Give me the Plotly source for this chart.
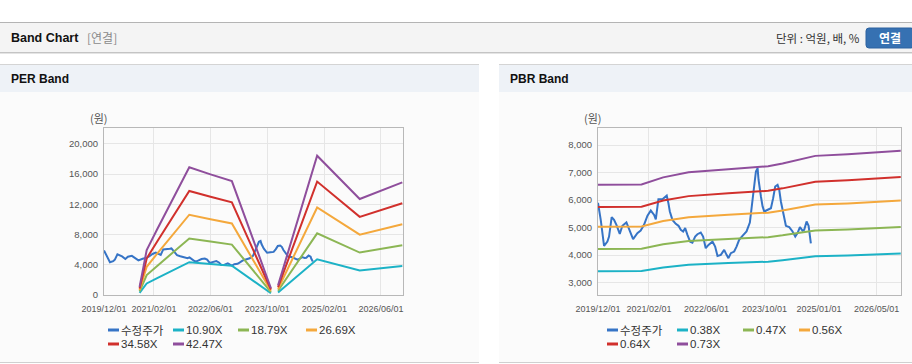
import plotly.graph_objects as go

W, H = 912, 364

# ---------------- data ----------------
price_name = "수정주가"
price_dates = [
    "2019-12-01", "2019-12-24", "2020-01-21", "2020-02-18", "2020-03-03", "2020-03-25",
    "2020-04-14", "2020-05-04", "2020-06-01", "2020-06-23", "2020-07-27", "2020-08-18",
    "2020-09-21", "2020-10-27", "2020-11-24", "2020-12-22", "2021-01-20", "2021-02-17",
    "2021-03-17", "2021-03-31", "2021-04-22", "2021-05-26", "2021-06-17", "2021-07-01",
    "2021-07-15", "2021-07-27", "2021-08-18", "2021-09-15", "2021-10-08", "2021-10-27",
    "2021-11-16", "2021-12-03", "2021-12-22", "2022-01-14", "2022-02-02", "2022-02-25",
    "2022-03-16", "2022-04-13", "2022-05-03", "2022-05-25", "2022-06-17", "2022-07-21",
    "2022-08-12", "2022-09-01", "2022-09-29", "2022-10-27", "2022-11-16", "2022-12-02",
    "2022-12-22", "2023-01-19", "2023-02-08", "2023-03-02", "2023-03-30", "2023-05-03",
    "2023-05-31", "2023-06-17", "2023-07-06", "2023-07-21", "2023-08-04", "2023-08-12",
    "2023-09-01", "2023-09-15", "2023-09-29", "2023-10-27", "2023-11-24", "2023-12-13",
    "2023-12-30", "2024-01-19", "2024-02-02", "2024-02-16", "2024-03-07", "2024-03-29",
    "2024-04-26", "2024-05-24", "2024-06-16", "2024-07-05", "2024-07-25", "2024-08-16",
    "2024-08-30", "2024-09-19", "2024-10-06", "2024-10-12", "2024-10-25",
]
price_vals = [
    5900, 5280, 4335, 4490, 4675, 5380,
    5280, 5100, 4770, 5065, 5185, 4920,
    4580, 4800, 4890, 5100, 5430, 5620,
    5460, 5300, 6030, 6030, 6110, 6160,
    5890, 5585, 5280, 5135, 5065, 4920,
    4860, 4980, 4735, 4490, 4455, 4675,
    4760, 4820, 4675, 4250, 4370, 4490,
    4310, 3970, 4010, 4190, 4010, 3890,
    4070, 4130, 4310, 4555, 4700, 4860,
    5185, 5770, 6495, 7040, 7160, 6740,
    6130, 5770, 5585, 5650, 5705, 6070,
    6495, 6555, 6375, 5950, 5525, 5065,
    5015, 4860, 4675, 4800, 5015, 4890,
    4920, 5220, 5065, 4800, 4430,
]

per_dates = ["2020-10-01", "2020-12-01", "2021-03-01", "2021-06-01", "2021-09-01",
             "2021-12-01", "2022-06-01", "2022-12-01", "2023-11-01", "2023-12-01",
             "2024-01-01", "2024-12-01", "2025-12-01", "2026-12-01"]
per_names = ["10.90X", "18.79X", "26.69X", "34.58X", "42.47X"]
per_1090 = [273, 1526, 2235, 2943, 3652, 4338, 4098, 3870, 229, None, 327, 4731, 3259, 3826]
per_1879 = [470, 2631, 3852, 5073, 6295, 7478, 7065, 6670, 395, None, 564, 8155, 5618, 6595]
per_2669 = [667, 3737, 5471, 7206, 8941, 10623, 10035, 9475, 560, None, 801, 11583, 7980, 9368]
per_3458 = [865, 4841, 7089, 9337, 11584, 13763, 13002, 12276, 726, None, 1037, 15008, 10339, 12138]
per_4247 = [1062, 5946, 8706, 11467, 14227, 16903, 15969, 15077, 892, None, 1274, 18432, 12699, 14907]

pbr_dates = ["2019-12-01", "2020-12-01", "2021-06-01", "2022-01-01", "2022-12-01",
             "2023-11-01", "2024-03-01", "2024-12-01", "2025-09-01", "2026-11-20"]
pbr_names = ["0.38X", "0.47X", "0.56X", "0.64X", "0.73X"]
pbr_038 = [3412, 3420, 3553, 3648, 3709, 3762, 3815, 3960, 3990, 4058]
pbr_047 = [4221, 4230, 4395, 4512, 4587, 4653, 4719, 4897, 4935, 5020]
pbr_056 = [5029, 5040, 5236, 5376, 5466, 5544, 5622, 5835, 5880, 5981]
pbr_064 = [5747, 5760, 5984, 6144, 6246, 6336, 6426, 6669, 6720, 6835]
pbr_073 = [6555, 6570, 6826, 7008, 7125, 7227, 7329, 7607, 7665, 7796]

per_tickvals = ["2019-12-01", "2021-02-01", "2022-06-01", "2023-10-01", "2025-02-01", "2026-06-01"]
per_ticktext = ["2019/12/01", "2021/02/01", "2022/06/01", "2023/10/01", "2025/02/01", "2026/06/01"]
pbr_tickvals = ["2019-12-01", "2021-02-01", "2022-06-01", "2023-10-01", "2025-01-01", "2026-05-01"]
pbr_ticktext = ["2019/12/01", "2021/02/01", "2022/06/01", "2023/10/01", "2025/01/01", "2026/05/01"]
per_yticks = [0, 4000, 8000, 12000, 16000, 20000]
pbr_yticks = [3000, 4000, 5000, 6000, 7000, 8000]

# ---------------- style ----------------
price_color = "#3674c6"
band_colors = ["#1cb2c6", "#8cb654", "#f4a83c", "#d1302c", "#8f4e9c"]
FONT = "Liberation Sans, Arial, Noto Sans CJK KR, sans-serif"
KFONT = "Noto Sans CJK KR, Liberation Sans, sans-serif"


def X(px):
    return px / W


def Y(py):
    return 1 - py / H


fig = go.Figure()

# PER panel traces
fig.add_trace(go.Scatter(x=price_dates, y=price_vals, name=price_name, mode="lines",
                         line=dict(color=price_color, width=2), xaxis="x", yaxis="y"))
for nm, vals, c in zip(per_names, [per_1090, per_1879, per_2669, per_3458, per_4247], band_colors):
    fig.add_trace(go.Scatter(x=per_dates, y=vals, name=nm, mode="lines", connectgaps=False,
                             line=dict(color=c, width=2), xaxis="x", yaxis="y"))

# PBR panel traces
fig.add_trace(go.Scatter(x=price_dates, y=price_vals, name=price_name, mode="lines",
                         line=dict(color=price_color, width=2), xaxis="x2", yaxis="y2"))
for nm, vals, c in zip(pbr_names, [pbr_038, pbr_047, pbr_056, pbr_064, pbr_073], band_colors):
    fig.add_trace(go.Scatter(x=pbr_dates, y=vals, name=nm, mode="lines",
                             line=dict(color=c, width=2), xaxis="x2", yaxis="y2"))

shapes = []
annotations = []


def rect(x0, y0, x1, y1, color, layer="below"):
    shapes.append(dict(type="rect", xref="paper", yref="paper", x0=X(x0), x1=X(x1),
                       y0=Y(y1), y1=Y(y0), fillcolor=color, line=dict(width=0), layer=layer))


def hline(x0, x1, y, color, width=1, layer="below"):
    shapes.append(dict(type="line", xref="paper", yref="paper", x0=X(x0), x1=X(x1),
                       y0=Y(y), y1=Y(y), line=dict(color=color, width=width), layer=layer))


def text(x, y, s, size=12, color="#333", bold=False, xanchor="left", family=FONT):
    if bold:
        s = "<b>" + s + "</b>"
    annotations.append(dict(x=X(x), y=Y(y), xref="paper", yref="paper", text=s, showarrow=False,
                            xanchor=xanchor, yanchor="middle", borderpad=0,
                            font=dict(size=size, color=color, family=family)))


# top header bar
hline(0, W, 22.5, "#b4b4b4")
rect(0, 23, W, 52, "#f4f4f4")
hline(0, W, 52.5, "#c4c4c4")
hline(0, W, 53.5, "#e4e4e4")
text(10, 38, "Band Chart", size=12.5, color="#111", bold=True)
text(86, 38, "[연결]", size=12, color="#8a8a8a", family=KFONT)
text(861, 38.5, "단위 : 억원, 배, %", size=11.5, color="#333", xanchor="right", family=KFONT)
# button
bx0, bx1, by0, by1, r = 866, 914, 28, 48, 3
rx, ry = r / W, r / H
path = (f"M{X(bx0)+rx},{Y(by0)} L{X(bx1)-rx},{Y(by0)} Q{X(bx1)},{Y(by0)} {X(bx1)},{Y(by0)-ry} "
        f"L{X(bx1)},{Y(by1)+ry} Q{X(bx1)},{Y(by1)} {X(bx1)-rx},{Y(by1)} "
        f"L{X(bx0)+rx},{Y(by1)} Q{X(bx0)},{Y(by1)} {X(bx0)},{Y(by1)+ry} "
        f"L{X(bx0)},{Y(by0)-ry} Q{X(bx0)},{Y(by0)} {X(bx0)+rx},{Y(by0)} Z")
shapes.append(dict(type="path", xref="paper", yref="paper", path=path,
                   fillcolor="#3671b2", line=dict(color="#2c62a0", width=1), layer="below"))
text(890, 38, "연결", size=12, color="white", bold=True, xanchor="center", family=KFONT)

# panels
for (px0, px1, title) in [(0, 479, "PER Band"), (499, W, "PBR Band")]:
    hline(px0, px1, 64.5, "#d4d4d4")
    rect(px0, 65, px1, 92, "#eef2f7")
    rect(px0, 92, px1, 362, "#fbfbfb")
    hline(px0, px1, 362.5, "#d0d0d0")
    text(px0 + 10, 79, title, size=12, color="#111", bold=True)

text(99, 118, "(원)", size=11, color="#555", xanchor="center", family=KFONT)
text(593, 118, "(원)", size=11, color="#555", xanchor="center", family=KFONT)

# custom legends
per_legend = [(price_name, price_color)] + list(zip(per_names, band_colors))
pbr_legend = [(price_name, price_color)] + list(zip(pbr_names, band_colors))
for items, cols in [(per_legend, [108, 173, 238, 306]), (pbr_legend, [607, 677, 743, 799])]:
    for i, (nm, c) in enumerate(items):
        lx = cols[i % 4]
        ly = 330 + 14 * (i // 4)
        hline(lx, lx + 11, ly, c, width=3, layer="above")
        text(lx + 12, ly, nm, size=11.5, color="#333",
             family=KFONT if nm == price_name else FONT)

axis_common = dict(showline=True, mirror=True, linecolor="#b8b8b8", linewidth=1,
                   showgrid=True, gridcolor="#e6e6e6", gridwidth=1, zeroline=False,
                   ticks="", automargin=False, tickangle=0,
                   tickfont=dict(size=9.5, color="#555", family=FONT), fixedrange=True)
xstyle = dict(axis_common, ticklabelstandoff=5, tickfont=dict(size=9, color="#555", family=FONT))
ystyle = dict(axis_common, ticklabelstandoff=3)

fig.update_layout(
    width=W, height=H, autosize=False,
    margin=dict(l=0, r=0, t=0, b=0, pad=0),
    paper_bgcolor="white", plot_bgcolor="white",
    showlegend=False,
    shapes=shapes, annotations=annotations,
    xaxis=dict(domain=[X(104), X(403)], anchor="y", type="date",
               range=["2019-12-01", "2026-12-07"], tickmode="array",
               tickvals=per_tickvals, ticktext=per_ticktext, **xstyle),
    yaxis=dict(domain=[Y(295), Y(128)], anchor="x", range=[0, 22100], tickmode="array",
               tickvals=per_yticks, tickformat=",d", **ystyle),
    xaxis2=dict(domain=[X(598), X(901)], anchor="y2", type="date",
                range=["2019-12-01", "2026-11-22"], tickmode="array",
                tickvals=pbr_tickvals, ticktext=pbr_ticktext, **xstyle),
    yaxis2=dict(domain=[Y(295), Y(128)], anchor="x2", range=[2550, 8620], tickmode="array",
                tickvals=pbr_yticks, tickformat=",d", **ystyle),
)

fig.write_html("out.html", config={"displayModeBar": False},
               post_script="document.body.style.margin='0px';")
